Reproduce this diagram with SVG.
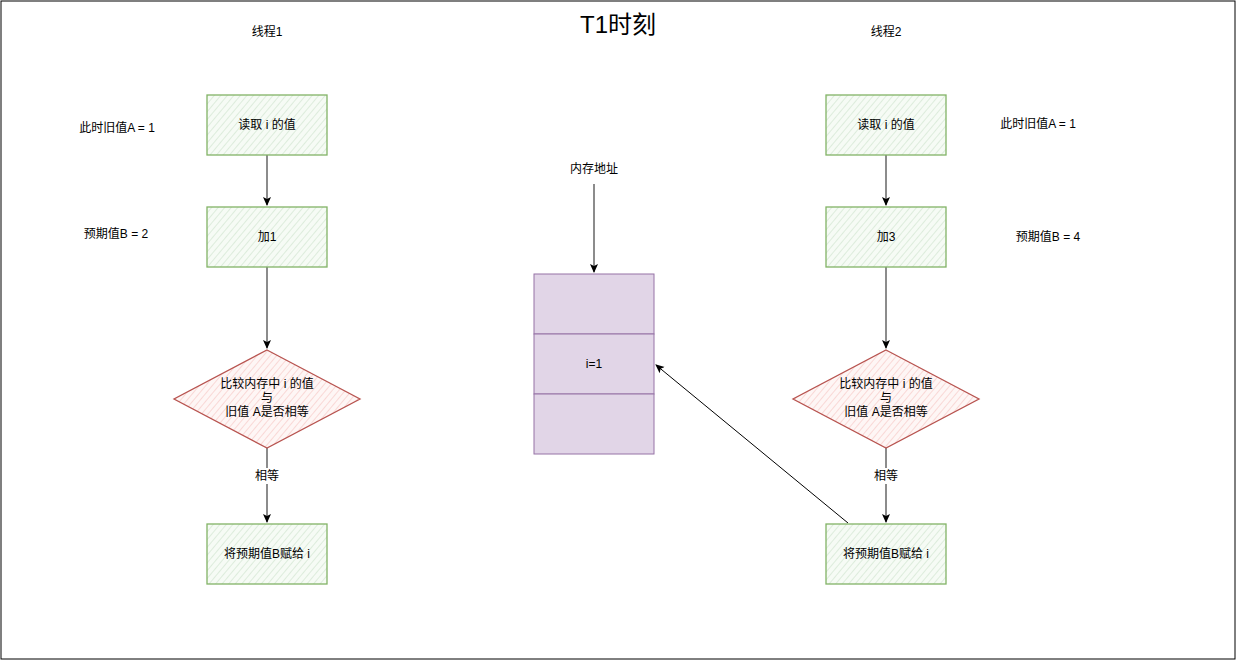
<svg xmlns="http://www.w3.org/2000/svg" width="1237" height="661" viewBox="0 0 1237 661">
<style>
text{font-family:"Liberation Sans","Noto Sans CJK SC",sans-serif;font-size:12px;fill:#000;text-anchor:middle;dominant-baseline:central}
.g{fill:url(#hg);stroke:#82b366;stroke-width:1.3}
.r{fill:url(#hr);stroke:#b85450;stroke-width:1.3}
.m{fill:#e1d5e7;stroke:#9673a6;stroke-width:1}
.e{fill:none;stroke:#666;stroke-width:1.5}
.d{fill:none;stroke:#000;stroke-width:1}
</style>
<defs>
<pattern id="hg" width="5" height="5" patternUnits="userSpaceOnUse" patternTransform="rotate(40)">
<rect width="5" height="5" fill="#f6fbf5"/><line x1="0" y1="0" x2="0" y2="5" stroke="#d5e8d4" stroke-width="1.5"/>
</pattern>
<pattern id="hr" width="5" height="5" patternUnits="userSpaceOnUse" patternTransform="rotate(40)">
<rect width="5" height="5" fill="#fef6f5"/><line x1="0" y1="0" x2="0" y2="5" stroke="#f8cecc" stroke-width="1.5"/>
</pattern>
<marker id="a" markerWidth="10" markerHeight="10" refX="8" refY="5" orient="auto" markerUnits="userSpaceOnUse">
<path d="M0,1 L9,5 L0,9 L2,5 Z" fill="#000"/>
</marker>
</defs>
<rect x="1" y="1" width="1234" height="658" fill="#fff" stroke="#000" stroke-width="1"/>
<text x="618" y="24" style="font-size:24px">T1时刻</text>
<g id="labels">
<text x="267" y="32">线程1</text>
<text x="886" y="32">线程2</text>
<text x="117" y="128">此时旧值A = 1</text>
<text x="116" y="234">预期值B = 2</text>
<text x="1038" y="124">此时旧值A = 1</text>
<text x="1048" y="237">预期值B = 4</text>
<text x="594" y="169">内存地址</text>
</g>
<g id="connectors">
<path class="e" d="M267,155 V205" marker-end="url(#a)"/>
<path class="e" d="M267,267 V348" marker-end="url(#a)"/>
<path class="e" d="M267,448 V522" marker-end="url(#a)"/>
<rect x="255" y="468" width="24" height="16" fill="#fff"/>
<text x="267" y="476">相等</text>
<path class="e" d="M886,155 V205" marker-end="url(#a)"/>
<path class="e" d="M886,267 V348" marker-end="url(#a)"/>
<path class="e" d="M886,448 V522" marker-end="url(#a)"/>
<rect x="874" y="468" width="24" height="16" fill="#fff"/>
<text x="886" y="476">相等</text>
<path class="e" d="M594,184 V272" marker-end="url(#a)"/>
<path class="d" d="M848,523 L656,365" marker-end="url(#a)"/>
</g>
<g id="t1-read"><rect class="g" x="207" y="95" width="120" height="60"/><text x="267" y="125">读取 i 的值</text></g>
<g id="t1-add"><rect class="g" x="207" y="207" width="120" height="60"/><text x="267" y="237">加1</text></g>
<g id="t1-cmp"><path class="r" d="M267,350 L360,399 L267,448 L174,399 Z"/><text x="267" y="384">比较内存中 i 的值</text><text x="267" y="398">与</text><text x="267" y="412">旧值 A是否相等</text></g>
<g id="t1-set"><rect class="g" x="207" y="524" width="120" height="60"/><text x="267" y="554">将预期值B赋给 i</text></g>
<g id="t2-read"><rect class="g" x="826" y="95" width="120" height="60"/><text x="886" y="125">读取 i 的值</text></g>
<g id="t2-add"><rect class="g" x="826" y="207" width="120" height="60"/><text x="886" y="237">加3</text></g>
<g id="t2-cmp"><path class="r" d="M886,350 L979,399 L886,448 L793,399 Z"/><text x="886" y="384">比较内存中 i 的值</text><text x="886" y="398">与</text><text x="886" y="412">旧值 A是否相等</text></g>
<g id="t2-set"><rect class="g" x="826" y="524" width="120" height="60"/><text x="886" y="554">将预期值B赋给 i</text></g>
<g id="memory">
<rect class="m" x="534" y="274" width="120" height="60"/>
<rect class="m" x="534" y="334" width="120" height="60"/>
<rect class="m" x="534" y="394" width="120" height="60"/>
<text x="594" y="364">i=1</text>
</g>
</svg>
